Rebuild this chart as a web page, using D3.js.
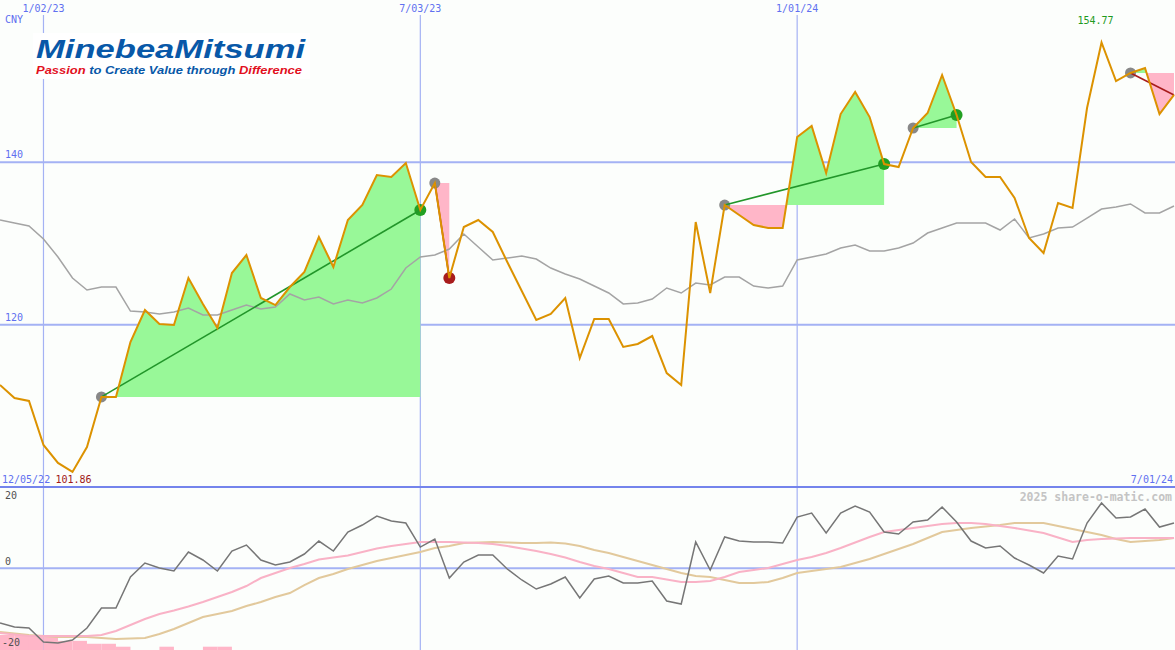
<!DOCTYPE html>
<html>
<head>
<meta charset="utf-8">
<script src="https://cdn.jsdelivr.net/npm/d3@7"></script>
<style>
  body { margin: 0; background: #fcfefc; }
  text { font-family: 'DejaVu Sans Mono', monospace; font-size: 10px; }
</style>
</head>
<body>
<div id="chart"></div>
<script>
var width = 1175
var height = 650
var splitY = 487

// weekly closes (CNY), first week 12/12/22
var firstWeek = new Date(2022, 11, 12)
var closes = [
  112.57, 110.97, 110.6, 105.18, 102.96, 101.86, 104.93, 111.1, 111.1, 117.86,
  121.81, 120.08, 119.96, 125.75, 122.55, 119.59, 126.36, 128.58, 123.29, 122.42,
  124.64, 126.49, 130.8, 127.1, 132.89, 134.74, 138.44, 138.19, 139.92, 134.13,
  137.45, 125.75, 132.03, 132.89, 131.42, 127.72, 124.15, 120.57, 121.31, 123.29,
  115.89, 120.7, 120.7, 117.25, 117.62, 118.6, 114.04, 112.57, 132.65, 123.9,
  134.74, 133.51, 132.28, 131.91, 131.91, 143.12, 144.48, 138.69, 145.95, 148.67,
  145.58, 139.79, 139.42, 144.23, 146.08, 150.76, 145.83, 140.04, 138.19, 138.19,
  135.61, 130.68, 128.83, 134.99, 134.38, 146.69, 154.77, 150.02, 151.01, 151.62,
  145.95, 148.3
]

// moving average
var average = [
  132.9, 132.53, 132.16, 130.55, 128.34, 125.75, 124.27, 124.64, 124.64, 121.68,
  121.56, 121.31, 121.56, 122.05, 121.19, 121.19, 121.81, 122.42, 121.93, 122.18,
  123.78, 123.04, 123.41, 122.55, 123.04, 122.67, 123.29, 124.39, 126.98, 128.34,
  128.58, 129.32, 131.17, 129.57, 127.97, 128.21, 128.46, 128.09, 126.98, 126.24,
  125.63, 124.76, 123.9, 122.55, 122.67, 123.16, 124.52, 123.9, 125.13, 124.89,
  125.87, 125.87, 124.76, 124.52, 124.76, 127.97, 128.34, 128.71, 129.45, 129.82,
  129.08, 129.08, 129.45, 130.06, 131.29, 131.91, 132.53, 132.53, 132.53, 131.66,
  133.02, 130.68, 131.17, 131.91, 132.03, 133.14, 134.25, 134.5, 134.87, 133.76,
  133.76, 134.62
]

// lower panel: momentum and its two smoothings
var momentum = [
  -14.93, -16.03, -16.3, -20.12, -20.39, -19.57, -16.3, -10.84, -10.84, -2.38,
  1.45, 0.08, -0.74, 4.45, 2.27, -0.74, 4.72, 6.36, 2.27, 0.9,
  1.72, 3.9, 7.45, 4.72, 9.91, 11.82, 14.28, 12.91, 12.37, 5.81,
  8.0, -2.65, 1.72, 3.63, 3.63, -0.19, -3.19, -5.65, -4.29, -2.38,
  -8.11, -2.92, -2.1, -4.01, -4.01, -3.47, -8.93, -9.75, 7.18, -0.46,
  8.55, 7.45, 7.18, 7.18, 6.91, 14.0, 15.1, 9.64, 15.1, 17.01,
  15.37, 9.91, 9.36, 12.64, 13.19, 16.73, 12.64, 7.45, 5.54, 6.09,
  2.81, 0.9, -1.28, 3.36, 2.54, 12.37, 17.83, 13.73, 14.01, 16.19,
  11.27, 12.37
]
var momFast = [
  -17.66, -18.07, -18.48, -18.48, -18.48, -18.48, -18.48, -18.21, -17.12, -15.48,
  -13.84, -12.48, -11.52, -10.43, -9.2, -7.84, -6.47, -4.83, -2.65, -1.28,
  0.08, 1.17, 2.4, 2.95, 3.49, 4.45, 5.41, 6.09, 6.63, 7.18,
  7.18, 7.18, 7.04, 6.91, 6.63, 6.09, 5.41, 4.72, 3.9, 2.95,
  1.72, 0.63, -0.19, -1.28, -2.38, -2.38, -3.06, -3.74, -3.74, -3.47,
  -2.38, -1.01, -0.46, 0.08, 1.17, 2.27, 3.08, 4.18, 5.54, 7.04,
  8.55, 9.91, 10.46, 11.0, 11.55, 12.09, 12.37, 12.37, 12.09, 11.55,
  11.0, 10.32, 9.64, 8.41, 7.18, 7.73, 8.0, 8.14, 8.27, 8.27,
  8.27, 8.27
]
var momSlow = [
  -17.39, -17.8, -18.21, -18.48, -18.76, -18.76, -18.76, -19.03, -19.3, -19.16,
  -19.03, -17.94, -16.57, -14.93, -13.3, -12.48, -11.66, -10.29, -9.2, -7.84,
  -6.75, -4.56, -2.65, -1.56, -0.19, 0.9, 1.99, 2.81, 3.63, 4.45,
  5.54, 6.09, 6.91, 7.04, 7.18, 7.04, 6.91, 6.91, 7.04, 6.77,
  6.09, 5.0, 4.18, 3.08, 1.99, 0.9, -0.19, -1.28, -2.1, -2.38,
  -3.19, -4.01, -4.01, -3.74, -2.65, -1.28, -0.74, -0.19, 0.35, 1.45,
  2.54, 3.9, 5.27, 6.63, 8.27, 9.91, 10.46, 11.0, 11.41, 11.82,
  12.37, 12.37, 12.37, 11.55, 10.73, 9.91, 9.09, 8.0, 7.18, 7.45,
  7.73, 8.27
]

// pink bars at the foot of the lower panel
var barWeeks = [0, 1, 2, 3, 4, 5, 6, 7, 8, 11, 14, 15]
var barLevels = [-18.2, -18.2, -18.2, -18.2, -19.8, -19.8, -20.6, -20.6, -21.4, -21.4, -21.4, -21.4]

// trades
var tradeStart = ['2023-01-30', '2023-07-10', '2023-11-27', '2024-02-26', '2024-06-10']
var tradeEnd = ['2023-07-03', '2023-07-17', '2024-02-12', '2024-03-18', '2024-07-01']
var tradeOpen = [false, false, false, false, true]

var gridDates = ['2023-01-02', '2023-07-03', '2024-01-01']
var gridLabels = ['1/02/23', '7/03/23', '1/01/24']
var priceTicks = [120, 140]
var momTicks = [20, 0, -20]

var parse = d3.timeParse('%Y-%m-%d')
var dates = closes.map((d, i) => d3.timeDay.offset(firstWeek, i * 7))
var weekIndex = s => Math.round((parse(s) - firstWeek) / (7 * 864e5))

var x = d3.scaleTime().domain([dates[0], dates[dates.length - 1]]).range([0, 1174])
var y = d3.scaleLinear().domain([100, 160]).range([splitY, 0])
var y2 = d3.scaleLinear().domain([-22.3, 22.2]).range([height, splitY])

var blue = '#6070f0'
var gridColor = '#a4b2f4'

var svg = d3
  .select('#chart')
  .append('svg')
  .attr('width', width)
  .attr('height', height)

svg.append('rect').attr('width', width).attr('height', height).attr('fill', '#fcfefc')

var defs = svg.append('defs')

// grid
svg
  .selectAll('.vgrid')
  .data(gridDates)
  .enter()
  .append('line')
  .attr('x1', d => x(parse(d)))
  .attr('x2', d => x(parse(d)))
  .attr('y1', 15)
  .attr('y2', height)
  .attr('stroke', gridColor)
  .attr('stroke-width', 1.2)

svg
  .selectAll('.hgrid')
  .data(priceTicks)
  .enter()
  .append('line')
  .attr('x1', 0)
  .attr('x2', width)
  .attr('y1', d => y(d))
  .attr('y2', d => y(d))
  .attr('stroke', gridColor)
  .attr('stroke-width', 2)

svg
  .append('line')
  .attr('x1', 0)
  .attr('x2', width)
  .attr('y1', y2(0))
  .attr('y2', y2(0))
  .attr('stroke', gridColor)
  .attr('stroke-width', 2)

// logo
var logo = svg.append('g')
logo.append('rect').attr('x', 33).attr('y', 33).attr('width', 277).attr('height', 46).attr('fill', '#ffffff')
logo
  .append('text')
  .text('MinebeaMitsumi')
  .attr('x', 36)
  .attr('y', 57.5)
  .attr('textLength', 269)
  .attr('lengthAdjust', 'spacingAndGlyphs')
  .style('font-family', 'Liberation Sans, Arial, sans-serif')
  .style('font-weight', 'bold')
  .style('font-style', 'italic')
  .style('font-size', '26.5px')
  .attr('fill', '#0858a8')
var sub = logo
  .append('text')
  .attr('x', 36)
  .attr('y', 74)
  .attr('textLength', 266)
  .attr('lengthAdjust', 'spacingAndGlyphs')
  .style('font-family', 'Liberation Sans, Arial, sans-serif')
  .style('font-weight', 'bold')
  .style('font-style', 'italic')
  .style('font-size', '11.5px')
sub.append('tspan').text('Passion').attr('fill', '#e2101e')
sub.append('tspan').text(' to Create Value through ').attr('fill', '#0858a8')
sub.append('tspan').text('Difference').attr('fill', '#e2101e')

// lower panel bars
svg
  .selectAll('.bar')
  .data(barWeeks)
  .enter()
  .append('rect')
  .attr('x', d => x(dates[d]))
  .attr('width', d => x(dates[1]) - x(dates[0]))
  .attr('y', (d, i) => y2(barLevels[i]))
  .attr('height', (d, i) => height - y2(barLevels[i]))
  .attr('fill', '#ffb6c8')

// trade fills
var trades = tradeStart.map((s, k) => ({ s: weekIndex(s), e: weekIndex(tradeEnd[k]), open: tradeOpen[k] }))

trades.forEach((t, k) => {
  var base = closes[t.s]
  defs
    .append('clipPath')
    .attr('id', 'up' + k)
    .append('rect')
    .attr('x', 0)
    .attr('y', 0)
    .attr('width', width)
    .attr('height', y(base))
  defs
    .append('clipPath')
    .attr('id', 'down' + k)
    .append('rect')
    .attr('x', 0)
    .attr('y', y(base))
    .attr('width', width)
    .attr('height', splitY - y(base))

  var area = d3
    .area()
    .x(i => x(dates[i]))
    .y0(y(base))
    .y1(i => y(closes[i]))
  var pts = d3.range(t.s, t.e + 1)

  svg.append('path').attr('d', area(pts)).attr('fill', '#98f898').attr('clip-path', 'url(#up' + k + ')')
  svg.append('path').attr('d', area(pts)).attr('fill', '#ffb6c8').attr('clip-path', 'url(#down' + k + ')')
})

// panel separator
svg
  .append('line')
  .attr('x1', 0)
  .attr('x2', width)
  .attr('y1', splitY)
  .attr('y2', splitY)
  .attr('stroke', '#7484ec')
  .attr('stroke-width', 2)

var line = d3
  .line()
  .x((d, i) => x(dates[i]))
  .y(d => y(d))
var line2 = d3
  .line()
  .x((d, i) => x(dates[i]))
  .y(d => y2(d))

svg.append('path').attr('d', line(average)).attr('fill', 'none').attr('stroke', '#a4a4a4').attr('stroke-width', 1.5)

svg.append('path').attr('d', line2(momSlow)).attr('fill', 'none').attr('stroke', '#e2c99c').attr('stroke-width', 2)
svg.append('path').attr('d', line2(momFast)).attr('fill', 'none').attr('stroke', '#f9b2c6').attr('stroke-width', 2)
svg.append('path').attr('d', line2(momentum)).attr('fill', 'none').attr('stroke', '#767676').attr('stroke-width', 1.5)

// dots and trend lines
trades.forEach(t => {
  var win = closes[t.e] >= closes[t.s]
  var col = win ? '#22a022' : '#a81c1c'
  svg
    .append('circle')
    .attr('cx', x(dates[t.s]))
    .attr('cy', y(closes[t.s]))
    .attr('r', 5.5)
    .attr('fill', '#888888')
  if (!t.open) {
    svg
      .append('circle')
      .attr('cx', x(dates[t.e]))
      .attr('cy', y(closes[t.e]))
      .attr('r', 6)
      .attr('fill', col)
  }
  svg
    .append('line')
    .attr('x1', x(dates[t.s]))
    .attr('y1', y(closes[t.s]))
    .attr('x2', x(dates[t.e]))
    .attr('y2', y(closes[t.e]))
    .attr('stroke', win ? '#22962a' : '#a81c1c')
    .attr('stroke-width', 1.6)
})

svg.append('path').attr('d', line(closes)).attr('fill', 'none').attr('stroke', '#dc9200').attr('stroke-width', 2)

// labels
svg
  .selectAll('.date-text')
  .data(gridDates)
  .enter()
  .append('text')
  .text((d, i) => gridLabels[i])
  .attr('x', d => x(parse(d)))
  .attr('y', 12)
  .attr('text-anchor', 'middle')
  .attr('fill', blue)

svg.append('text').text('CNY').attr('x', 5).attr('y', 23).attr('fill', blue)

svg
  .selectAll('.price-text')
  .data(priceTicks)
  .enter()
  .append('text')
  .text(d => d)
  .attr('x', 5)
  .attr('y', d => y(d) - 4)
  .attr('fill', blue)

svg
  .selectAll('.mom-text')
  .data(momTicks)
  .enter()
  .append('text')
  .text(d => d)
  .attr('x', d => (d < 0 ? 2 : 5))
  .attr('y', d => y2(d) + (d === 0 ? -3 : 4))
  .attr('fill', '#505050')

var hi = d3.maxIndex(closes)
var lo = d3.minIndex(closes)

svg.append('text').text('12/05/22').attr('x', 2).attr('y', 483).attr('fill', blue)
svg
  .append('text')
  .text(closes[lo].toFixed(2))
  .attr('x', x(dates[lo]) + 1)
  .attr('y', 483)
  .attr('text-anchor', 'middle')
  .attr('fill', '#a01818')
svg.append('text').text('7/01/24').attr('x', 1173).attr('y', 483).attr('text-anchor', 'end').attr('fill', blue)
svg
  .append('text')
  .text(closes[hi].toFixed(2))
  .attr('x', x(dates[hi]) - 6)
  .attr('y', 24)
  .attr('text-anchor', 'middle')
  .attr('fill', '#1e9a1e')

svg
  .append('text')
  .text('2025 share-o-matic.com')
  .attr('x', 1172)
  .attr('y', 501)
  .attr('text-anchor', 'end')
  .attr('fill', '#c4c4c4')
  .style('font-size', '11.5px')
  .style('font-weight', 'bold')
</script>
</body>
</html>
